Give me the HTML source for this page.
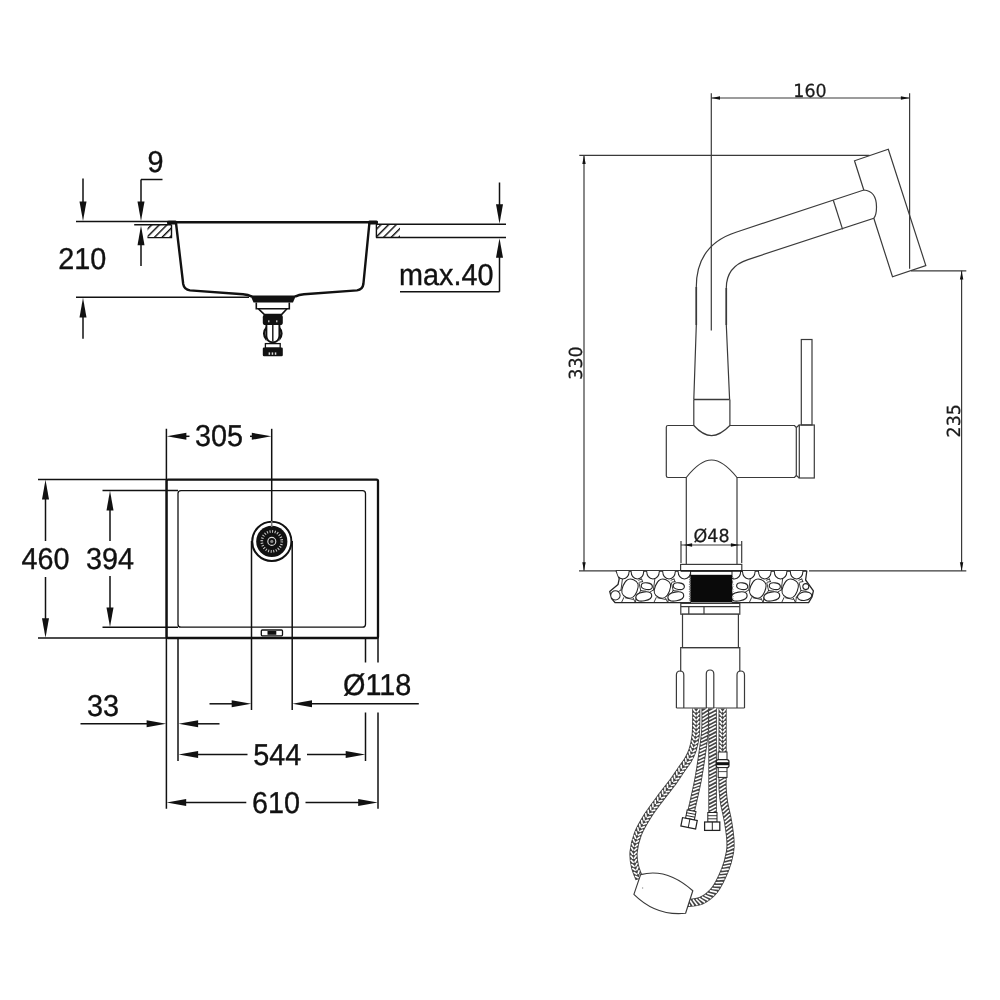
<!DOCTYPE html>
<html lang="en">
<head>
<meta charset="utf-8">
<title>Sink and faucet dimensions</title>
<style>
html,body{margin:0;padding:0;background:#fff;}
body{width:1000px;height:1000px;overflow:hidden;}
svg{display:block;will-change:transform;filter:grayscale(1) blur(0.45px);}
text{text-rendering:geometricPrecision;}
.sink{font-family:"Liberation Sans",Arial,Helvetica,sans-serif;fill:#111;stroke:#111;stroke-width:0.35px;}
.fau{font-family:"DejaVu Sans","Liberation Sans",Verdana,sans-serif;fill:#1a1a1a;stroke:#1a1a1a;stroke-width:0.25px;}
</style>
</head>
<body>
<svg width="1000" height="1000" viewBox="0 0 1000 1000">
<defs>
<pattern id="hatch" width="5.4" height="5.4" patternUnits="userSpaceOnUse" patternTransform="rotate(45)">
<line x1="1.6" y1="0" x2="1.6" y2="5.4" stroke="#111" stroke-width="1.45"/>
</pattern>
<clipPath id="slabclip"><path d="M691,571 L616.2,571 L619.2,578.8 L618,584.6 L609.7,591.4 L611.6,598.6 L615.2,602.7 L691,602.7 Z M732,571 L806.8,571 L805.6,580 L813.4,590.8 L812,597 L808.6,602.7 L732,602.7 Z"/></clipPath>
</defs>
<rect width="1000" height="1000" fill="#fff"/>
<g id="sink-section">
<line x1="76" y1="221.6" x2="168" y2="221.6" stroke="#111" stroke-width="1.5" />
<line x1="83" y1="178.5" x2="83" y2="205" stroke="#111" stroke-width="1.5" />
<polygon points="83.00,221.00 79.50,201.40 86.50,201.40" fill="#111"/>
<line x1="141" y1="179.5" x2="162.5" y2="179.5" stroke="#111" stroke-width="1.5" />
<line x1="141" y1="179.5" x2="141" y2="205" stroke="#111" stroke-width="1.5" />
<polygon points="141.00,221.00 137.50,201.40 144.50,201.40" fill="#111"/>
<text transform="translate(155.6,172.3) scale(1,1.05)" font-size="28.8" text-anchor="middle" class="sink">9</text>
<line x1="134.2" y1="224.7" x2="171.5" y2="224.7" stroke="#111" stroke-width="1.5" />
<rect x="147.5" y="224.7" width="24" height="12.9" fill="url(#hatch)" stroke="none"/>
<path d="M171.5,224.7 L171.5,237.6 L147.5,237.6" stroke="#111" stroke-width="1.4" fill="none" />
<polygon points="141.00,225.60 144.50,245.20 137.50,245.20" fill="#111"/>
<line x1="141" y1="243" x2="141" y2="266" stroke="#111" stroke-width="1.5" />
<text transform="translate(58.3,268.7) scale(1,1.05)" font-size="28.8" text-anchor="start" class="sink">210</text>
<line x1="76" y1="297.2" x2="249" y2="297.2" stroke="#111" stroke-width="1.5" />
<polygon points="83.00,297.80 86.50,317.40 79.50,317.40" fill="#111"/>
<line x1="83" y1="316" x2="83" y2="338.8" stroke="#111" stroke-width="1.5" />
<line x1="168" y1="222.2" x2="377.5" y2="222.2" stroke="#111" stroke-width="2.4" />
<rect x="167" y="220.6" width="10" height="4" rx="1.5" fill="#111"/>
<rect x="368" y="220.6" width="10" height="4" rx="1.5" fill="#111"/>
<path d="M176,223 L183.2,284 Q184.2,289.6 190,290.4 L243,294.2 Q248,294.6 252,296.6" stroke="#111" stroke-width="2.4" fill="none" stroke-linejoin="round"/>
<path d="M369.4,223 L363.4,284 Q362.6,289.6 357,290.4 L304,294.2 Q299,294.6 295,296.6" stroke="#111" stroke-width="2.4" fill="none" stroke-linejoin="round"/>
<path d="M250.5,295.6 L296,295.6 L293,302.6 L253.5,302.6 Z" fill="#111"/>
<path d="M256.3,302.6 L256.3,308.8 L289.3,308.8 L289.3,302.6" stroke="#111" stroke-width="1.6" fill="none" />
<path d="M258.5,308.8 L264.5,314.6 L281.5,314.6 L287,308.8" stroke="#111" stroke-width="1.6" fill="none" />
<circle cx="272.8" cy="333.6" r="8.7" fill="#fff" stroke="#111" stroke-width="2.3"/>
<rect x="266.4" y="322" width="13" height="21" fill="#fff" stroke="none"/>
<path d="M266.4,322 L266.4,336 Q266.8,342.2 272.8,342.4 Q278.9,342.2 279.4,336 L279.4,322" stroke="#111" stroke-width="1.9" fill="none" />
<line x1="272.8" y1="325" x2="272.8" y2="341.5" stroke="#111" stroke-width="1.4" />
<rect x="262.8" y="314.6" width="20" height="10.4" rx="2.6" fill="#111"/>
<rect x="268" y="320.3" width="1.5" height="2" fill="#bbb"/><rect x="276" y="320.3" width="1.5" height="2" fill="#bbb"/>
<rect x="265.4" y="343.6" width="14.8" height="4.6" fill="#fff" stroke="#111" stroke-width="1.3"/>
<rect x="262.8" y="347.6" width="20" height="8.6" rx="1.2" fill="#111"/>
<rect x="268.6" y="352.4" width="1.5" height="2.4" fill="#ddd"/><rect x="271.7" y="352.4" width="1.5" height="2.4" fill="#ddd"/><rect x="274.8" y="352.4" width="1.5" height="2.4" fill="#ddd"/>
<line x1="376" y1="224.3" x2="506" y2="224.3" stroke="#111" stroke-width="1.5" />
<line x1="376" y1="237.6" x2="506" y2="237.6" stroke="#111" stroke-width="1.5" />
<rect x="376.4" y="224.3" width="23.6" height="13.3" fill="url(#hatch)" stroke="none"/>
<path d="M376.4,224.3 L376.4,237.6" stroke="#111" stroke-width="1.4" fill="none" />
<line x1="499.5" y1="182.5" x2="499.5" y2="206" stroke="#111" stroke-width="1.5" />
<polygon points="499.50,223.80 496.00,204.20 503.00,204.20" fill="#111"/>
<polygon points="499.50,238.20 503.00,257.80 496.00,257.80" fill="#111"/>
<line x1="499.5" y1="256" x2="499.5" y2="291.8" stroke="#111" stroke-width="1.5" />
<line x1="400" y1="291.8" x2="499.5" y2="291.8" stroke="#111" stroke-width="1.5" />
<text transform="translate(399,285.3) scale(1,1.05)" font-size="28.8" text-anchor="start" class="sink">max.40</text>
</g>
<g id="sink-plan">
<line x1="166.4" y1="428.8" x2="166.4" y2="808.8" stroke="#111" stroke-width="1.5" />
<line x1="178" y1="638" x2="178" y2="761" stroke="#111" stroke-width="1.5" />
<line x1="38" y1="479.6" x2="166" y2="479.6" stroke="#111" stroke-width="1.5" />
<line x1="38" y1="638" x2="166" y2="638" stroke="#111" stroke-width="1.5" />
<line x1="102.5" y1="490.6" x2="178" y2="490.6" stroke="#111" stroke-width="1.5" />
<line x1="102.5" y1="627.2" x2="178" y2="627.2" stroke="#111" stroke-width="1.5" />
<rect x="166.6" y="479.6" width="211.4" height="158.4" rx="1.5" fill="none" stroke="#111" stroke-width="2.3"/>
<rect x="178" y="490.6" width="187.5" height="136.6" rx="3" fill="none" stroke="#111" stroke-width="1.3"/>
<polygon points="45.50,479.80 49.00,499.40 42.00,499.40" fill="#111"/>
<line x1="45.5" y1="498" x2="45.5" y2="541" stroke="#111" stroke-width="1.5" />
<line x1="45.5" y1="577" x2="45.5" y2="620" stroke="#111" stroke-width="1.5" />
<polygon points="45.50,637.80 42.00,618.20 49.00,618.20" fill="#111"/>
<text transform="translate(45.5,569) scale(1,1.05)" font-size="28.8" text-anchor="middle" class="sink">460</text>
<polygon points="110.00,490.80 113.50,510.40 106.50,510.40" fill="#111"/>
<line x1="110" y1="509" x2="110" y2="541" stroke="#111" stroke-width="1.5" />
<line x1="110" y1="576" x2="110" y2="609" stroke="#111" stroke-width="1.5" />
<polygon points="110.00,627.00 106.50,607.40 113.50,607.40" fill="#111"/>
<text transform="translate(110,569) scale(1,1.05)" font-size="28.8" text-anchor="middle" class="sink">394</text>
<polygon points="166.80,436.30 186.40,432.80 186.40,439.80" fill="#111"/>
<line x1="185" y1="436.3" x2="189.5" y2="436.3" stroke="#111" stroke-width="1.5" />
<text transform="translate(219,446.3) scale(1,1.05)" font-size="28.8" text-anchor="middle" class="sink">305</text>
<line x1="250" y1="436.3" x2="254" y2="436.3" stroke="#111" stroke-width="1.5" />
<polygon points="271.40,436.30 251.80,439.80 251.80,432.80" fill="#111"/>
<line x1="271.7" y1="428.8" x2="271.7" y2="527" stroke="#111" stroke-width="1.5" />
<line x1="251.5" y1="541" x2="251.5" y2="710" stroke="#111" stroke-width="1.5" />
<line x1="292.2" y1="541" x2="292.2" y2="710" stroke="#111" stroke-width="1.5" />
<circle cx="271.8" cy="541.4" r="19.6" fill="#fff" stroke="#111" stroke-width="2"/>
<circle cx="271.8" cy="541.4" r="15.6" fill="#111"/>
<circle cx="271.8" cy="541.4" r="10" fill="none" stroke="#ccc" stroke-width="2.6" stroke-dasharray="1 1.62"/>
<circle cx="271.8" cy="541.4" r="4" fill="#111" stroke="#ddd" stroke-width="1.1"/>
<circle cx="271.8" cy="541.4" r="1.6" fill="#888"/>
<line x1="271.7" y1="521" x2="271.7" y2="527" stroke="#777" stroke-width="1.5" />
<rect x="261.3" y="630" width="21.2" height="5.8" rx="1" fill="#fff" stroke="#111" stroke-width="1.3"/>
<rect x="267.5" y="631" width="8.8" height="3.8" fill="#111"/>
<line x1="365.5" y1="638" x2="365.5" y2="662.5" stroke="#111" stroke-width="1.5" />
<line x1="378" y1="638" x2="378" y2="662.5" stroke="#111" stroke-width="1.5" />
<line x1="365.5" y1="712.5" x2="365.5" y2="761" stroke="#111" stroke-width="1.5" />
<line x1="378" y1="712.5" x2="378" y2="808.8" stroke="#111" stroke-width="1.5" />
<line x1="209.5" y1="703.8" x2="232" y2="703.8" stroke="#111" stroke-width="1.5" />
<polygon points="251.30,703.80 231.70,707.30 231.70,700.30" fill="#111"/>
<polygon points="292.40,703.80 312.00,700.30 312.00,707.30" fill="#111"/>
<line x1="310" y1="703.8" x2="418.8" y2="703.8" stroke="#111" stroke-width="1.5" />
<text transform="translate(377.2,695.2) scale(1,1.05)" font-size="28.8" text-anchor="middle" class="sink">Ø118</text>
<line x1="80.5" y1="723.8" x2="148" y2="723.8" stroke="#111" stroke-width="1.5" />
<polygon points="166.20,723.80 146.60,727.30 146.60,720.30" fill="#111"/>
<polygon points="178.50,723.80 198.10,720.30 198.10,727.30" fill="#111"/>
<line x1="196" y1="723.8" x2="219.5" y2="723.8" stroke="#111" stroke-width="1.5" />
<text transform="translate(103,716) scale(1,1.05)" font-size="28.8" text-anchor="middle" class="sink">33</text>
<polygon points="178.50,754.60 198.10,751.10 198.10,758.10" fill="#111"/>
<line x1="196" y1="754.6" x2="247.5" y2="754.6" stroke="#111" stroke-width="1.5" />
<text transform="translate(277.3,765) scale(1,1.05)" font-size="28.8" text-anchor="middle" class="sink">544</text>
<line x1="307" y1="754.6" x2="348" y2="754.6" stroke="#111" stroke-width="1.5" />
<polygon points="365.30,754.60 345.70,758.10 345.70,751.10" fill="#111"/>
<polygon points="166.60,802.60 186.20,799.10 186.20,806.10" fill="#111"/>
<line x1="185" y1="802.6" x2="246.3" y2="802.6" stroke="#111" stroke-width="1.5" />
<text transform="translate(276,812.6) scale(1,1.05)" font-size="28.8" text-anchor="middle" class="sink">610</text>
<line x1="305.5" y1="802.6" x2="360" y2="802.6" stroke="#111" stroke-width="1.5" />
<polygon points="377.80,802.60 358.20,806.10 358.20,799.10" fill="#111"/>
</g>
<g id="faucet">
<line x1="711.3" y1="93.3" x2="711.3" y2="330.5" stroke="#3a3a3a" stroke-width="1.2" />
<line x1="909.6" y1="93.3" x2="909.6" y2="268.8" stroke="#3a3a3a" stroke-width="1.2" />
<line x1="711.3" y1="98" x2="909.6" y2="98" stroke="#3a3a3a" stroke-width="1.2" />
<polygon points="711.50,98.00 720.00,96.30 720.00,99.70" fill="#111"/>
<polygon points="909.40,98.00 900.90,99.70 900.90,96.30" fill="#111"/>
<text transform="translate(810,96.8) scale(1,1.03)" font-size="17.5" text-anchor="middle" class="fau">160</text>
<line x1="579.3" y1="155.3" x2="869.5" y2="155.3" stroke="#3a3a3a" stroke-width="1.2" />
<line x1="584" y1="155.3" x2="584" y2="571" stroke="#3a3a3a" stroke-width="1.2" />
<polygon points="584.00,155.50 585.70,164.00 582.30,164.00" fill="#111"/>
<polygon points="584.00,570.80 582.30,562.30 585.70,562.30" fill="#111"/>
<text transform="translate(582.3,363) rotate(-90) scale(1,1.03)" font-size="17.5" text-anchor="middle" class="fau">330</text>
<line x1="911" y1="270.8" x2="966.3" y2="270.8" stroke="#3a3a3a" stroke-width="1.2" />
<line x1="961.6" y1="270.8" x2="961.6" y2="571" stroke="#3a3a3a" stroke-width="1.2" />
<polygon points="961.60,271.00 963.30,279.50 959.90,279.50" fill="#111"/>
<polygon points="961.60,570.80 959.90,562.30 963.30,562.30" fill="#111"/>
<text transform="translate(959.6,420.8) rotate(-90) scale(1,1.03)" font-size="17.5" text-anchor="middle" class="fau">235</text>
<line x1="579" y1="570.8" x2="681" y2="570.8" stroke="#3a3a3a" stroke-width="1.2" />
<line x1="742" y1="570.8" x2="806" y2="570.8" stroke="#3a3a3a" stroke-width="1.2" />
<line x1="809" y1="570.8" x2="966.3" y2="570.8" stroke="#3a3a3a" stroke-width="1.2" />
<path d="M693.8,399.5 L696.3,325 L696.3,287 Q696.3,245 736,232.2 L863.8,190 Q876.5,191 876.5,207 Q876.5,215 873.8,218.2 L748,259.6 Q726.3,266.5 726.3,288 L726.3,325 L729.6,399.5" stroke="#3a3a3a" stroke-width="1.2" fill="none" />
<line x1="696.3" y1="287" x2="696.3" y2="325" stroke="#3a3a3a" stroke-width="1.6" />
<line x1="726.3" y1="288" x2="726.3" y2="325" stroke="#3a3a3a" stroke-width="1.6" />
<line x1="833.3" y1="200.3" x2="842.6" y2="229.4" stroke="#3a3a3a" stroke-width="1.2" />
<path d="M863.8,190 L854.5,160.8 L888.3,149.3 L925.8,265.5 L892.5,276.8 L873.8,218.2" stroke="#3a3a3a" stroke-width="1.2" fill="none" />
<line x1="693.8" y1="399.5" x2="729.6" y2="399.5" stroke="#3a3a3a" stroke-width="1.5" />
<path d="M693.8,399.5 L693.8,425.5 M729.9,399.5 L729.9,425.5" stroke="#3a3a3a" stroke-width="1.2" fill="none" />
<path d="M693.8,425.5 L668,425.5 Q666.3,425.5 666.3,427.2 L666.3,475.8 Q666.3,477.5 668,477.5 L686.3,477.5 Q700,460 711.6,460 Q723,460 737,477.5 L794.5,477.5 L796.3,475.5 L796.3,427.5 L794.5,425.5 L729.9,425.5 Q720,435.6 711.6,435.6 Q703,435.6 693.8,425.5" stroke="#3a3a3a" stroke-width="1.2" fill="none" />
<path d="M796.3,427.5 L799.3,425 M796.3,475.5 L799.3,478" stroke="#3a3a3a" stroke-width="1.2" fill="none" />
<rect x="799.3" y="425" width="15" height="53" fill="none" stroke="#3a3a3a" stroke-width="1.2"/>
<rect x="801.3" y="339.5" width="10.7" height="85.5" fill="none" stroke="#3a3a3a" stroke-width="1.2"/>
<line x1="686.3" y1="477.5" x2="686.3" y2="564.4" stroke="#3a3a3a" stroke-width="1.2" />
<line x1="737" y1="477.5" x2="737" y2="564.4" stroke="#3a3a3a" stroke-width="1.2" />
<line x1="681" y1="541" x2="681" y2="563" stroke="#3a3a3a" stroke-width="1.2" />
<line x1="741.7" y1="541" x2="741.7" y2="563" stroke="#3a3a3a" stroke-width="1.2" />
<line x1="681" y1="545" x2="741.7" y2="545" stroke="#3a3a3a" stroke-width="1.2" />
<polygon points="683.60,545.00 692.10,543.30 692.10,546.70" fill="#111"/>
<polygon points="739.40,545.00 730.90,546.70 730.90,543.30" fill="#111"/>
<text transform="translate(711.6,542.2) scale(1,1.03)" font-size="17.5" text-anchor="middle" class="fau">Ø48</text>
<rect x="680.6" y="564.4" width="61.2" height="6.3" fill="#fff" stroke="#3a3a3a" stroke-width="1.2"/>
</g>
<g id="under">
<path d="M691,571.0 L616.2,571.0 L619.2,578.8 L618,584.6 L609.7,591.4 L611.6,598.6 L615.2,602.7 L691,602.7" fill="#fff" stroke="#262626" stroke-width="1.3" stroke-linejoin="round"/>
<path d="M732,571.0 L806.8,571.0 L805.6,580 L813.4,590.8 L812,597 L808.6,602.7 L732,602.7" fill="#fff" stroke="#262626" stroke-width="1.3" stroke-linejoin="round"/>
<g clip-path="url(#slabclip)">
<path d="M616.4,571.0 Q616.8,578.6 622.8,578.9 Q628.8,578.6 629.2,571.0" fill="#fff" stroke="#262626" stroke-width="1.05"/>
<path d="M631.0,571.0 Q631.4,578.6 637.4,578.9 Q643.4,578.6 643.8,571.0" fill="#fff" stroke="#262626" stroke-width="1.05"/>
<path d="M646.6,571.0 Q647.0,578.6 653.0,578.9 Q659.0,578.6 659.4,571.0" fill="#fff" stroke="#262626" stroke-width="1.05"/>
<path d="M662.6,571.0 Q663.0,578.6 669.0,578.9 Q675.0,578.6 675.4,571.0" fill="#fff" stroke="#262626" stroke-width="1.05"/>
<path d="M678.0,571.0 Q678.4,578.6 684.4,578.9 Q690.4,578.6 690.8,571.0" fill="#fff" stroke="#262626" stroke-width="1.05"/>
<path d="M638.6,580.2 L641.6,579.0 M641.6,579.0 L642.6,581.6 M642.6,581.6 L639.6,582.2 M639.0,583.0 L640.8,590.6 M640.8,590.6 L636.2,597.2 M640.8,590.6 L646.0,591.2 M622.4,579.2 L621.0,590.0 M621.0,590.0 L617.6,592.0 M623.8,597.6 L621.4,602.7 M633.2,598.2 L635.4,602.7 M636.2,597.2 L635.4,602.7 M625.4,597.8 L633.0,599.4" fill="none" stroke="#262626" stroke-width="0.9" stroke-linecap="round"/>
<path d="M671.0,580.2 L674.0,579.0 M674.0,579.0 L675.0,581.6 M675.0,581.6 L672.0,582.2 M671.4,583.0 L673.2,590.6 M673.2,590.6 L668.6,597.2 M673.2,590.6 L678.4,591.2 M654.8,579.2 L653.4,590.0 M653.4,590.0 L650.0,592.0 M656.2,597.6 L653.8,602.7 M665.6,598.2 L667.8,602.7 M668.6,597.2 L667.8,602.7 M657.8,597.8 L665.4,599.4" fill="none" stroke="#262626" stroke-width="0.9" stroke-linecap="round"/>
<path d="M-7.5,0 C-7.5,-6.84 -5.3999999999999995,-9.5 0,-9.5 C5.3999999999999995,-9.5 7.5,-6.84 7.5,0 C7.5,6.84 5.3999999999999995,9.5 0,9.5 C-5.3999999999999995,9.5 -7.5,6.84 -7.5,0 Z" transform="translate(630.0,588.6) rotate(22)" fill="#fff" stroke="#262626" stroke-width="1.15"/>
<path d="M-7.5,0 C-7.5,-6.84 -5.3999999999999995,-9.5 0,-9.5 C5.3999999999999995,-9.5 7.5,-6.84 7.5,0 C7.5,6.84 5.3999999999999995,9.5 0,9.5 C-5.3999999999999995,9.5 -7.5,6.84 -7.5,0 Z" transform="translate(662.4,588.6) rotate(22)" fill="#fff" stroke="#262626" stroke-width="1.15"/>
<path d="M-5.6,0 C-5.6,-2.376 -4.032,-3.3 0,-3.3 C4.032,-3.3 5.6,-2.376 5.6,0 C5.6,2.376 4.032,3.3 0,3.3 C-4.032,3.3 -5.6,2.376 -5.6,0 Z" transform="translate(646.8,586.2) rotate(8)" fill="#fff" stroke="#262626" stroke-width="1.15"/>
<path d="M-8.0,0 C-8.0,-3.168 -5.76,-4.4 0,-4.4 C5.76,-4.4 8.0,-3.168 8.0,0 C8.0,3.168 5.76,4.4 0,4.4 C-5.76,4.4 -8.0,3.168 -8.0,0 Z" transform="translate(643.8,596.4) rotate(-10)" fill="#fff" stroke="#262626" stroke-width="1.15"/>
<path d="M-5.6,0 C-5.6,-2.376 -4.032,-3.3 0,-3.3 C4.032,-3.3 5.6,-2.376 5.6,0 C5.6,2.376 4.032,3.3 0,3.3 C-4.032,3.3 -5.6,2.376 -5.6,0 Z" transform="translate(678.8,586.2) rotate(8)" fill="#fff" stroke="#262626" stroke-width="1.15"/>
<path d="M-8.0,0 C-8.0,-3.168 -5.76,-4.4 0,-4.4 C5.76,-4.4 8.0,-3.168 8.0,0 C8.0,3.168 5.76,4.4 0,4.4 C-5.76,4.4 -8.0,3.168 -8.0,0 Z" transform="translate(675.8,596.4) rotate(-10)" fill="#fff" stroke="#262626" stroke-width="1.15"/>
<ellipse cx="615.4" cy="595.4" rx="4.7" ry="4.6" transform="rotate(0 615.4 595.4)" fill="#fff" stroke="#262626" stroke-width="1.05"/>
<path d="M728.0,571.0 Q728.4,578.6 734.4,578.9 Q740.4,578.6 740.8,571.0" fill="#fff" stroke="#262626" stroke-width="1.05"/>
<path d="M742.4,571.0 Q742.8,578.6 748.8,578.9 Q754.8,578.6 755.2,571.0" fill="#fff" stroke="#262626" stroke-width="1.05"/>
<path d="M758.4,571.0 Q758.8,578.6 764.8,578.9 Q770.8,578.6 771.2,571.0" fill="#fff" stroke="#262626" stroke-width="1.05"/>
<path d="M774.2,571.0 Q774.6,578.6 780.6,578.9 Q786.6,578.6 787.0,571.0" fill="#fff" stroke="#262626" stroke-width="1.05"/>
<path d="M790.2,571.0 Q790.6,578.6 796.6,578.9 Q802.6,578.6 803.0,571.0" fill="#fff" stroke="#262626" stroke-width="1.05"/>
<path d="M766.4,580.2 L769.4,579.0 M769.4,579.0 L770.4,581.6 M770.4,581.6 L767.4,582.2 M766.8,583.0 L768.6,590.6 M768.6,590.6 L764.0,597.2 M768.6,590.6 L773.8,591.2 M750.2,579.2 L748.8,590.0 M748.8,590.0 L745.4,592.0 M751.6,597.6 L749.2,602.7 M761.0,598.2 L763.2,602.7 M764.0,597.2 L763.2,602.7 M753.2,597.8 L760.8,599.4" fill="none" stroke="#262626" stroke-width="0.9" stroke-linecap="round"/>
<path d="M798.8,580.2 L801.8,579.0 M801.8,579.0 L802.8,581.6 M802.8,581.6 L799.8,582.2 M799.2,583.0 L801.0,590.6 M801.0,590.6 L796.4,597.2 M801.0,590.6 L806.2,591.2 M782.6,579.2 L781.2,590.0 M781.2,590.0 L777.8,592.0 M784.0,597.6 L781.6,602.7 M793.4,598.2 L795.6,602.7 M796.4,597.2 L795.6,602.7 M785.6,597.8 L793.2,599.4" fill="none" stroke="#262626" stroke-width="0.9" stroke-linecap="round"/>
<path d="M-7.5,0 C-7.5,-6.84 -5.3999999999999995,-9.5 0,-9.5 C5.3999999999999995,-9.5 7.5,-6.84 7.5,0 C7.5,6.84 5.3999999999999995,9.5 0,9.5 C-5.3999999999999995,9.5 -7.5,6.84 -7.5,0 Z" transform="translate(757.8,588.6) rotate(22)" fill="#fff" stroke="#262626" stroke-width="1.15"/>
<path d="M-7.5,0 C-7.5,-6.84 -5.3999999999999995,-9.5 0,-9.5 C5.3999999999999995,-9.5 7.5,-6.84 7.5,0 C7.5,6.84 5.3999999999999995,9.5 0,9.5 C-5.3999999999999995,9.5 -7.5,6.84 -7.5,0 Z" transform="translate(790.2,588.6) rotate(22)" fill="#fff" stroke="#262626" stroke-width="1.15"/>
<path d="M-5.6,0 C-5.6,-2.376 -4.032,-3.3 0,-3.3 C4.032,-3.3 5.6,-2.376 5.6,0 C5.6,2.376 4.032,3.3 0,3.3 C-4.032,3.3 -5.6,2.376 -5.6,0 Z" transform="translate(742.2,586.2) rotate(8)" fill="#fff" stroke="#262626" stroke-width="1.15"/>
<path d="M-8.0,0 C-8.0,-3.168 -5.76,-4.4 0,-4.4 C5.76,-4.4 8.0,-3.168 8.0,0 C8.0,3.168 5.76,4.4 0,4.4 C-5.76,4.4 -8.0,3.168 -8.0,0 Z" transform="translate(739.2,596.4) rotate(-10)" fill="#fff" stroke="#262626" stroke-width="1.15"/>
<path d="M-5.6,0 C-5.6,-2.376 -4.032,-3.3 0,-3.3 C4.032,-3.3 5.6,-2.376 5.6,0 C5.6,2.376 4.032,3.3 0,3.3 C-4.032,3.3 -5.6,2.376 -5.6,0 Z" transform="translate(774.8,586.2) rotate(8)" fill="#fff" stroke="#262626" stroke-width="1.15"/>
<path d="M-8.0,0 C-8.0,-3.168 -5.76,-4.4 0,-4.4 C5.76,-4.4 8.0,-3.168 8.0,0 C8.0,3.168 5.76,4.4 0,4.4 C-5.76,4.4 -8.0,3.168 -8.0,0 Z" transform="translate(771.8,596.4) rotate(-10)" fill="#fff" stroke="#262626" stroke-width="1.15"/>
<ellipse cx="804.6" cy="596.2" rx="7.2" ry="4.2" transform="rotate(-10 804.6 596.2)" fill="#fff" stroke="#262626" stroke-width="1.05"/>
<ellipse cx="805.8" cy="586.6" rx="3.0" ry="3.0" transform="rotate(0 805.8 586.6)" fill="#fff" stroke="#262626" stroke-width="1.05"/>
</g>
<rect x="690.6" y="571" width="41.4" height="4.6" fill="#fff" stroke="#262626" stroke-width="1"/>
<rect x="690.4" y="574.8" width="41.6" height="27.6" fill="#0a0a0a"/>
<path d="M690.4,576 l-1,1.2 l1,1.2 l-1,1.2 l1,1.2 l-1,1.2 l1,1.2 l-1,1.2 l1,1.2 l-1,1.2 l1,1.2 l-1,1.2 l1,1.2 l-1,1.2 l1,1.2 l-1,1.2 l1,1.2 l-1,1.2 l1,1.2 l-1,1.2 l1,1.2 l-1,1.2 M732,576 l1,1.2 l-1,1.2 l1,1.2 l-1,1.2 l1,1.2 l-1,1.2 l1,1.2 l-1,1.2 l1,1.2 l-1,1.2 l1,1.2 l-1,1.2 l1,1.2 l-1,1.2 l1,1.2 l-1,1.2 l1,1.2 l-1,1.2 l1,1.2 l-1,1.2 l1,1.2 l-1,1.2" fill="none" stroke="#222" stroke-width="0.7"/>
<line x1="680.6" y1="571" x2="741.8" y2="571" stroke="#1a1a1a" stroke-width="1.6"/>
<rect x="680.8" y="603.4" width="59" height="10.8" fill="#fff" stroke="#3a3a3a" stroke-width="1.2"/>
<line x1="680.8" y1="606.6" x2="739.8" y2="606.6" stroke="#3a3a3a" stroke-width="1.4"/>
<line x1="688.8" y1="606.6" x2="688.8" y2="614.2" stroke="#3a3a3a" stroke-width="1.2"/>
<line x1="704" y1="606.6" x2="704" y2="614.2" stroke="#3a3a3a" stroke-width="1.2"/>
<rect x="682.5" y="614.2" width="55.9" height="33.4" fill="#fff" stroke="#3a3a3a" stroke-width="1.2"/>
<path d="M680.7,671.5 L680.7,647.6 L739.8,647.6 L739.8,671.5" stroke="#3a3a3a" stroke-width="1.2" fill="none" />
<path d="M676.4,708 L676.4,675 Q676.4,671 680.1,671 Q683.8,671 683.8,675 L683.8,708" stroke="#3a3a3a" stroke-width="1.2" fill="none" />
<path d="M706.3,708 L706.3,674 Q706.3,670 710,670 Q713.8,670 713.8,674 L713.8,708" stroke="#3a3a3a" stroke-width="1.2" fill="none" />
<path d="M737,708 L737,675 Q737,671 740.7,671 Q744.5,671 744.5,675 L744.5,708" stroke="#3a3a3a" stroke-width="1.2" fill="none" />
<line x1="676.4" y1="708" x2="744.5" y2="708" stroke="#3a3a3a" stroke-width="1.2"/>
<path d="M696.2,708.5 C696.2,710.8 696.3,717.4 696.2,722.0 C696.1,726.6 696.2,731.3 695.6,736.0 C695.0,740.7 693.9,746.0 692.6,750.0 C691.3,754.0 689.9,756.7 688.0,760.0 C686.1,763.3 683.4,766.5 681.0,770.0 C678.6,773.5 677.0,776.3 673.6,781.0 C670.2,785.7 664.8,792.2 660.5,798.0 C656.2,803.8 651.4,810.0 647.6,816.0 C643.8,822.0 640.2,828.0 637.9,834.0 C635.6,840.0 634.1,846.6 633.6,852.0 C633.1,857.4 634.0,862.0 635.0,866.5 C636.0,871.0 638.8,876.9 639.5,879.0" fill="none" stroke="#444" stroke-width="8.2"/>
<path d="M693.6,709.5L695.3,711.7M698.8,709.5L697.1,711.7M693.6,713.6L695.3,715.8M698.8,713.5L697.1,715.8M693.6,717.6L695.3,719.8M698.8,717.6L697.1,719.8M693.6,721.6L695.3,723.8M698.8,721.7L697.1,723.9M693.5,725.6L695.2,727.8M698.7,725.6L697.0,727.8M693.5,729.5L695.1,731.8M698.7,729.7L696.9,731.9M693.3,733.2L694.8,735.5M698.5,733.7L696.6,735.7M692.8,737.0L694.2,739.5M698.0,737.8L696.0,739.7M692.2,741.0L693.4,743.5M697.3,742.1L695.1,743.9M691.4,744.7L692.5,747.2M696.4,745.9L694.2,747.6M690.4,748.4L691.3,751.0M695.3,750.0L693.0,751.6M689.2,751.9L689.9,754.6M694.0,753.9L691.5,755.3M687.6,755.4L688.0,758.1M692.2,757.9L689.6,759.0M685.7,758.7L686.0,761.5M690.2,761.5L687.6,762.4M683.7,761.9L683.8,764.7M687.9,765.0L685.2,765.7M681.2,765.2L681.3,768.0M685.4,768.3L682.8,769.1M678.9,768.4L679.1,771.2M683.2,771.3L680.6,772.2M676.7,771.9L676.9,774.6M681.0,774.7L678.4,775.6M674.4,775.3L674.6,778.0M678.7,778.2L676.1,779.1M672.3,778.3L672.4,781.1M676.5,781.4L673.9,782.2M669.9,781.5L670.0,784.3M674.1,784.7L671.4,785.4M667.5,784.6L667.5,787.4M671.6,787.9L668.9,788.5M665.0,787.9L664.9,790.7M669.1,791.2L666.4,791.8M662.6,790.9L662.6,793.7M666.7,794.1L664.1,794.8M660.2,794.1L660.2,796.9M664.3,797.2L661.6,798.0M657.7,797.4L657.8,800.1M661.9,800.5L659.2,801.2M655.3,800.6L655.3,803.4M659.5,803.7L656.8,804.5M652.9,803.9L652.9,806.7M657.0,807.0L654.4,807.7M650.6,807.0L650.7,809.8M654.8,810.0L652.1,810.8M648.2,810.3L648.4,813.1M652.5,813.3L649.9,814.1M645.8,813.9L646.1,816.7M650.2,816.7L647.6,817.6M643.7,817.3L644.1,820.0M648.2,820.0L645.6,821.0M641.7,820.6L642.1,823.4M646.2,823.2L643.6,824.3M639.7,824.2L640.1,827.0M644.2,826.7L641.7,827.8M637.8,827.9L638.3,830.6M642.5,830.1L640.0,831.4M636.0,831.8L636.7,834.5M640.8,833.7L638.4,835.1M634.5,835.6L635.5,838.2M639.5,837.2L637.2,838.8M633.3,839.5L634.4,842.0M638.4,840.8L636.1,842.5M632.3,843.6L633.5,846.1M637.4,844.6L635.3,846.5M631.5,847.6L632.9,850.0M636.7,848.3L634.7,850.3M631.0,851.9L632.6,854.2M636.2,852.2L634.4,854.3M630.9,856.1L632.7,858.2M636.1,855.8L634.5,858.1M631.2,860.4L633.2,862.3M636.4,859.6L635.0,862.0M631.9,864.6L634.0,866.4M637.0,863.5L635.8,866.0M632.8,868.6L635.1,870.2M637.8,867.1L636.8,869.7M634.2,872.6L636.5,874.1M639.0,870.8L638.2,873.4M635.6,876.4L638.1,877.8M640.4,874.4L639.7,877.1" fill="none" stroke="#fff" stroke-width="1.6" stroke-linecap="round"/>
<path d="M686.0,903.0 C688.5,902.6 696.2,903.0 701.0,900.8 C705.8,898.6 710.6,895.1 714.6,890.0 C718.6,884.9 722.4,876.3 725.0,870.0 C727.6,863.7 729.1,857.0 730.0,852.0 C730.9,847.0 730.7,845.1 730.4,840.0 C730.1,834.9 729.0,827.5 728.0,821.4 C727.0,815.3 725.1,808.6 724.2,803.4 C723.3,798.2 723.0,794.4 722.7,790.0 C722.4,785.6 722.6,779.2 722.6,777.0" fill="none" stroke="#444" stroke-width="8.2"/>
<path d="M686.2,900.3L689.5,905.4M689.9,900.2L693.2,905.2M693.4,899.9L697.1,904.7M696.6,899.5L700.8,903.7M699.5,898.6L704.5,902.0M702.5,897.2L707.8,900.0M705.2,895.4L710.8,897.7M707.9,893.4L713.6,895.1M710.4,890.9L716.3,892.1M712.5,888.5L718.5,889.0M714.5,885.7L720.5,885.8M716.2,882.7L722.2,882.5M717.9,879.5L723.9,879.0M719.4,876.4L725.4,875.8M720.8,873.2L726.8,872.5M722.2,869.9L728.2,869.1M723.5,866.7L729.4,865.5M724.6,863.5L730.4,862.1M725.6,860.1L731.3,858.4M726.4,856.6L732.1,854.8M727.1,853.2L732.8,851.2M727.8,849.7L733.3,847.3M728.1,846.5L733.2,843.4M728.0,843.2L733.0,839.8M727.8,839.6L732.7,836.1M727.4,836.1L732.3,832.5M727.0,832.5L731.8,828.9M726.5,828.9L731.2,825.1M726.0,825.5L730.7,821.8M725.4,821.8L730.0,817.9M724.8,818.6L729.3,814.5M724.0,815.0L728.4,810.9M723.2,811.5L727.6,807.4M722.4,807.8L726.9,803.9M721.7,804.1L726.3,800.3M721.1,800.6L725.9,796.9M720.7,797.1L725.5,793.6M720.3,793.4L725.3,790.0M720.1,789.7L725.2,786.5M720.0,785.9L725.1,782.9M720.0,782.3L725.2,779.3M720.0,778.8L725.2,775.8" fill="none" stroke="#fff" stroke-width="1.6" stroke-linecap="round"/>
<path d="M722.6,708.5 C722.6,712.1 722.6,722.7 722.6,730.0 C722.6,737.3 722.6,748.8 722.6,752.5" fill="none" stroke="#444" stroke-width="8.2"/>
<path d="M720.0,709.5L721.7,711.7M725.2,709.5L723.5,711.7M720.0,713.5L721.7,715.7M725.2,713.5L723.5,715.7M720.0,717.6L721.7,719.8M725.2,717.6L723.5,719.8M720.0,721.6L721.7,723.8M725.2,721.6L723.5,723.8M720.0,725.7L721.7,727.9M725.2,725.7L723.5,727.9M720.0,729.6L721.7,731.8M725.2,729.6L723.5,731.8M720.0,733.4L721.7,735.6M725.2,733.4L723.5,735.6M720.0,737.5L721.7,739.7M725.2,737.5L723.5,739.7M720.0,741.5L721.7,743.7M725.2,741.5L723.5,743.7M720.0,745.5L721.7,747.7M725.2,745.5L723.5,747.7M720.0,749.5L721.7,751.7M725.2,749.5L723.5,751.7" fill="none" stroke="#fff" stroke-width="1.6" stroke-linecap="round"/>
<path d="M705.2,708.5 C705.2,712.1 705.5,722.8 705.0,730.0 C704.5,737.2 703.6,743.7 702.4,752.0 C701.2,760.3 699.9,770.0 698.0,780.0 C696.1,790.0 692.2,806.7 691.0,812.0" fill="none" stroke="#444" stroke-width="7.6"/>
<path d="M707.5,708.9L702.9,711.9M707.5,712.6L703.0,715.7M707.6,716.1L703.0,719.1M707.6,719.8L702.9,722.8M707.5,723.4L702.9,726.3M707.5,727.0L702.7,729.8M707.3,730.6L702.5,733.3M707.0,734.3L702.1,736.8M706.6,737.9L701.7,740.4M706.2,741.6L701.2,744.0M705.7,745.2L700.7,747.5M705.2,748.6L700.2,750.9M704.7,752.2L699.7,754.5M704.2,755.8L699.2,758.2M703.7,759.4L698.7,761.7M703.1,763.1L698.1,765.4M702.6,766.6L697.6,768.9M702.0,770.2L697.0,772.5M701.5,773.6L696.4,775.8M700.8,777.4L695.8,779.5M700.2,780.9L695.1,782.9M699.5,784.5L694.3,786.5M698.8,787.8L693.6,789.8M698.0,791.5L692.8,793.5M697.2,795.0L692.1,796.9M696.4,798.6L691.2,800.5M695.6,802.0L690.5,803.9M694.8,805.6L689.7,807.5M694.0,809.0L688.9,810.9" fill="none" stroke="#fff" stroke-width="1.6" stroke-linecap="round"/>
<path d="M712.6,708.5 C712.6,717.1 712.6,742.2 712.6,760.0 C712.6,777.8 712.6,805.8 712.6,815.0" fill="none" stroke="#444" stroke-width="8.6"/>
<path d="M715.4,708.8L709.8,711.8M715.4,712.5L709.8,715.5M715.4,716.1L709.8,719.1M715.4,719.8L709.8,722.8M715.4,723.4L709.8,726.4M715.4,726.8L709.8,729.8M715.4,730.4L709.8,733.4M715.4,734.1L709.8,737.1M715.4,737.6L709.8,740.6M715.4,741.4L709.8,744.4M715.4,744.9L709.8,747.9M715.4,748.6L709.8,751.6M715.4,752.0L709.8,755.0M715.4,755.9L709.8,758.9M715.4,759.2L709.8,762.2M715.4,763.0L709.8,766.0M715.4,766.5L709.8,769.5M715.4,770.2L709.8,773.2M715.4,773.9L709.8,776.9M715.4,777.3L709.8,780.3M715.4,780.8L709.8,783.8M715.4,784.6L709.8,787.6M715.4,788.1L709.8,791.1M715.4,791.7L709.8,794.7M715.4,795.3L709.8,798.3M715.4,798.9L709.8,801.9M715.4,802.6L709.8,805.6M715.4,806.2L709.8,809.2M715.4,809.7L709.8,812.7M715.4,813.2L709.8,816.2" fill="none" stroke="#fff" stroke-width="1.6" stroke-linecap="round"/>
<g transform="rotate(11 689.5 820)"><rect x="685.3" y="810.5" width="9" height="8.5" fill="#fff" stroke="#222" stroke-width="1"/><line x1="685.3" y1="813.4" x2="694.3" y2="813.4" stroke="#222" stroke-width="0.9"/><line x1="685.3" y1="816.2" x2="694.3" y2="816.2" stroke="#222" stroke-width="0.9"/><rect x="682.2" y="819" width="15" height="8.6" fill="#fff" stroke="#222" stroke-width="1.25"/><line x1="689.7" y1="819" x2="689.7" y2="827.6" stroke="#222" stroke-width="1"/></g>
<g><rect x="707.8" y="812.5" width="9.2" height="9.6" fill="#fff" stroke="#222" stroke-width="1"/><line x1="707.8" y1="815.7" x2="717" y2="815.7" stroke="#222" stroke-width="0.9"/><line x1="707.8" y1="818.8" x2="717" y2="818.8" stroke="#222" stroke-width="0.9"/><rect x="704.6" y="822" width="15.2" height="8.4" fill="#fff" stroke="#222" stroke-width="1.25"/><line x1="712.3" y1="822" x2="712.3" y2="830.4" stroke="#222" stroke-width="1"/></g>
<rect x="718.2" y="752" width="8.8" height="8" fill="#fff" stroke="#222" stroke-width="1"/>
<rect x="716.2" y="759.6" width="12.8" height="8" rx="2.2" fill="#fff" stroke="#222" stroke-width="1.2"/>
<rect x="716.2" y="762.2" width="12.8" height="3" fill="#111"/>
<rect x="718.2" y="767.6" width="8.8" height="9.8" fill="#fff" stroke="#222" stroke-width="1"/>
<line x1="718.2" y1="771.6" x2="727" y2="771.6" stroke="#3a3a3a" stroke-width="0.9"/>
<path d="M640.6,874.6 Q667,867.6 692.8,890.8 L685.6,913.3 Q656,916.4 633.9,894.4 Z" stroke="#3a3a3a" stroke-width="1.15" fill="#fff" stroke-linejoin="round"/>
<circle cx="642.6" cy="888" r="0.7" fill="#999"/>
</g>
</svg>
</body>
</html>
